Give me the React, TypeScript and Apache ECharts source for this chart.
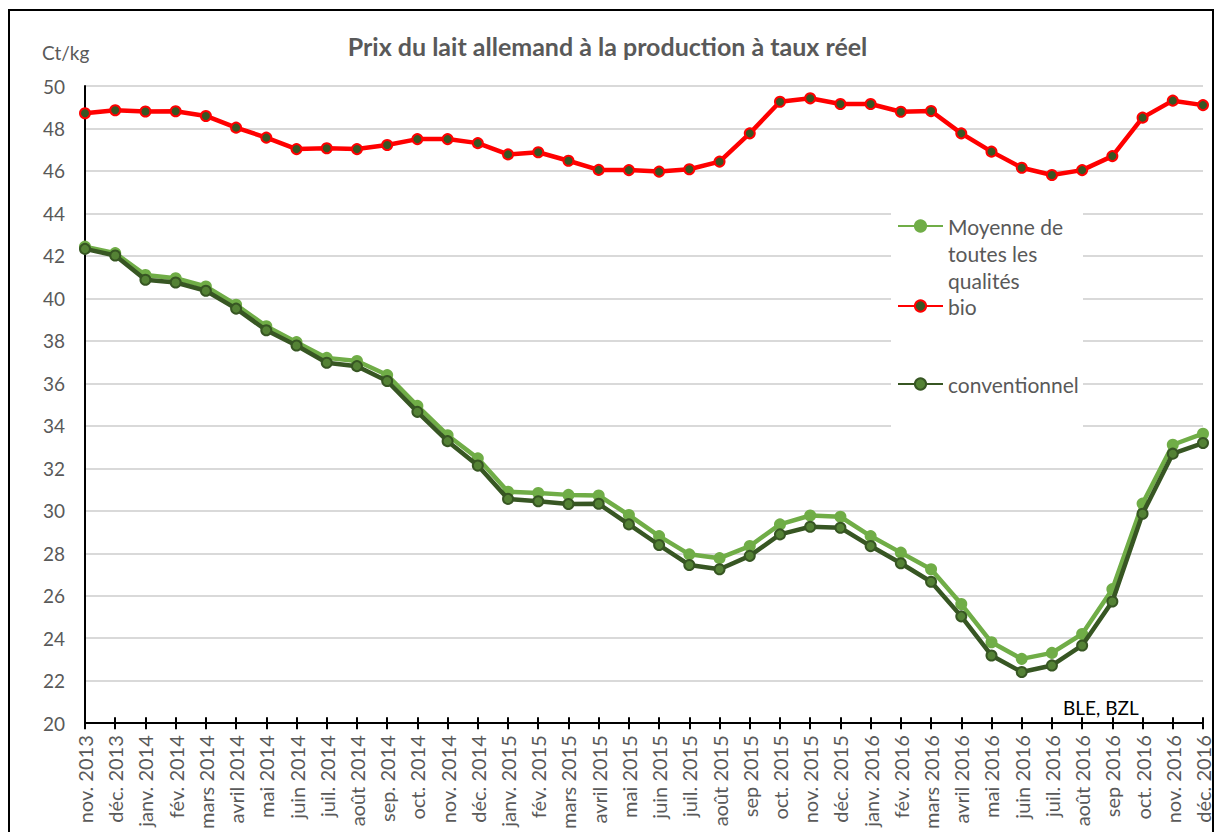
import React, { useEffect, useRef } from "react";
import * as echarts from "echarts";

const categories = [
  "nov. 2013", "déc. 2013", "janv. 2014", "fév. 2014", "mars 2014", "avril 2014", "mai 2014", "juin 2014",
  "juil. 2014", "août 2014", "sep. 2014", "oct. 2014", "nov. 2014", "déc. 2014", "janv. 2015", "fév. 2015",
  "mars 2015", "avril 2015", "mai 2015", "juin 2015", "juil. 2015", "août 2015", "sep 2015", "oct. 2015",
  "nov. 2015", "déc. 2015", "janv. 2016", "fév. 2016", "mars 2016", "avril 2016", "mai 2016", "juin 2016",
  "juil. 2016", "août 2016", "sep 2016", "oct. 2016", "nov. 2016", "déc. 2016",
];

const moyenne = [
  42.44, 42.13, 41.1, 40.95, 40.56, 39.7, 38.69, 37.94, 37.2, 37.05, 36.39, 34.94, 33.56, 32.47, 30.9, 30.84,
  30.75, 30.72, 29.8, 28.81, 27.95, 27.77, 28.34, 29.36, 29.78, 29.72, 28.81, 28.03, 27.25, 25.61, 23.81, 23.03,
  23.31, 24.2, 26.31, 30.34, 33.11, 33.63,
];

const bio = [
  48.72, 48.86, 48.8, 48.81, 48.59, 48.04, 47.57, 47.03, 47.07, 47.03, 47.22, 47.5, 47.5, 47.31, 46.78, 46.88,
  46.48, 46.05, 46.04, 45.97, 46.08, 46.44, 47.77, 49.26, 49.42, 49.15, 49.15, 48.79, 48.82, 47.77, 46.91, 46.15,
  45.81, 46.04, 46.7, 48.51, 49.31, 49.1,
];

const conventionnel = [
  42.33, 42.02, 40.88, 40.75, 40.36, 39.52, 38.5, 37.78, 36.97, 36.81, 36.11, 34.66, 33.28, 32.13, 30.56, 30.45,
  30.32, 30.33, 29.36, 28.39, 27.45, 27.25, 27.88, 28.89, 29.25, 29.2, 28.34, 27.53, 26.66, 25.03, 23.19, 22.41,
  22.72, 23.66, 25.73, 29.86, 32.69, 33.19,
];

const seriesNames = ["Moyenne de toutes les qualités", "bio", "conventionnel"];
const legendLabels = ["\n\nMoyenne de\ntoutes les\nqualités", "bio", "conventionnel"];

const FONT = "Lato";
const GREY = "#595959";

export default function App() {
  const ref = useRef<HTMLDivElement>(null);

  useEffect(() => {
    if (!ref.current) return;
    const chart = echarts.init(ref.current, undefined, { renderer: "svg" });

    const legendText = {
      fontFamily: FONT,
      fontSize: 21,
      color: GREY,
      lineHeight: 27,
    };
    const mkLegend = (idx: number, top: number) => ({
      data: [seriesNames[idx]],
      orient: "vertical",
      left: 897,
      top,
      padding: 0,
      itemWidth: 45,
      itemHeight: 14,
      textStyle: legendText,
      formatter: () => legendLabels[idx],
      selectedMode: false,
    });

    chart.setOption({
      animation: false,
      backgroundColor: "#ffffff",
      title: {
        text: "Prix du lait allemand à la production à taux réel",
        left: "center",
        top: 28,
        textStyle: { fontFamily: FONT, fontSize: 25, fontWeight: "bold", color: GREY },
      },
      legend: [mkLegend(0, 158.5), mkLegend(1, 292.5), mkLegend(2, 370.5)],
      grid: { left: 85, right: 12, top: 86, bottom: 107, containLabel: false },
      xAxis: [
        {
          type: "category",
          data: categories,
          boundaryGap: false,
          position: "bottom",
          axisLine: { show: true, lineStyle: { color: "#000", width: 2 } },
          axisTick: { show: true, length: 6, interval: 0, lineStyle: { color: "#000", width: 2 } },
          axisLabel: {
            interval: 0,
            rotate: 90,
            margin: 12,
            fontFamily: FONT,
            fontSize: 20,
            color: GREY,
          },
          splitLine: { show: false },
        },
        {
          type: "category",
          data: categories,
          boundaryGap: false,
          position: "bottom",
          axisLine: { show: false },
          axisTick: { show: true, inside: true, length: 6, interval: 0, lineStyle: { color: "#000", width: 2 } },
          axisLabel: { show: false },
          splitLine: { show: false },
        },
      ],
      yAxis: {
        type: "value",
        min: 20,
        max: 50,
        interval: 2,
        axisLine: { show: true, lineStyle: { color: "#000", width: 2 } },
        axisTick: { show: false },
        axisLabel: { margin: 20, fontFamily: FONT, fontSize: 19, color: GREY },
        splitLine: { lineStyle: { color: "#d9d9d9", width: 2 } },
      },
      graphic: [
        {
          type: "rect",
          shape: { x: 891, y: 200, width: 192, height: 240 },
          style: { fill: "#ffffff" },
          z: 1,
        },
        {
          type: "rect",
          shape: { x: 9, y: 10, width: 1204, height: 840 },
          style: { fill: "none", stroke: "#000", lineWidth: 2 },
          z: 10,
        },
        {
          type: "text",
          left: 42,
          top: 43,
          style: { text: "Ct/kg", fontFamily: FONT, fontSize: 19, fill: GREY },
          z: 10,
        },
        {
          type: "text",
          left: 1063,
          top: 698,
          style: { text: "BLE, BZL", fontFamily: FONT, fontSize: 19, fontWeight: "normal", fill: "#000" },
          z: 10,
        },
      ],
      series: [
        {
          name: seriesNames[0],
          type: "line",
          data: moyenne,
          symbol: "circle",
          symbolSize: 10,
          lineStyle: { color: "#70ad47", width: 4.5 },
          itemStyle: { color: "#70ad47", borderColor: "#70ad47", borderWidth: 2 },
          z: 2,
        },
        {
          name: seriesNames[1],
          type: "line",
          data: bio,
          symbol: "circle",
          symbolSize: 10,
          lineStyle: { color: "#ff0000", width: 4.5 },
          itemStyle: { color: "#375623", borderColor: "#ff0000", borderWidth: 2 },
          z: 3,
        },
        {
          name: seriesNames[2],
          type: "line",
          data: conventionnel,
          symbol: "circle",
          symbolSize: 10,
          lineStyle: { color: "#375623", width: 4.5 },
          itemStyle: { color: "#548235", borderColor: "#375623", borderWidth: 2 },
          z: 4,
        },
      ],
    });

    return () => chart.dispose();
  }, []);

  return (
    <div
      ref={ref}
      style={{ position: "fixed", left: 0, top: 0, width: 1215, height: 832 }}
    />
  );
}
